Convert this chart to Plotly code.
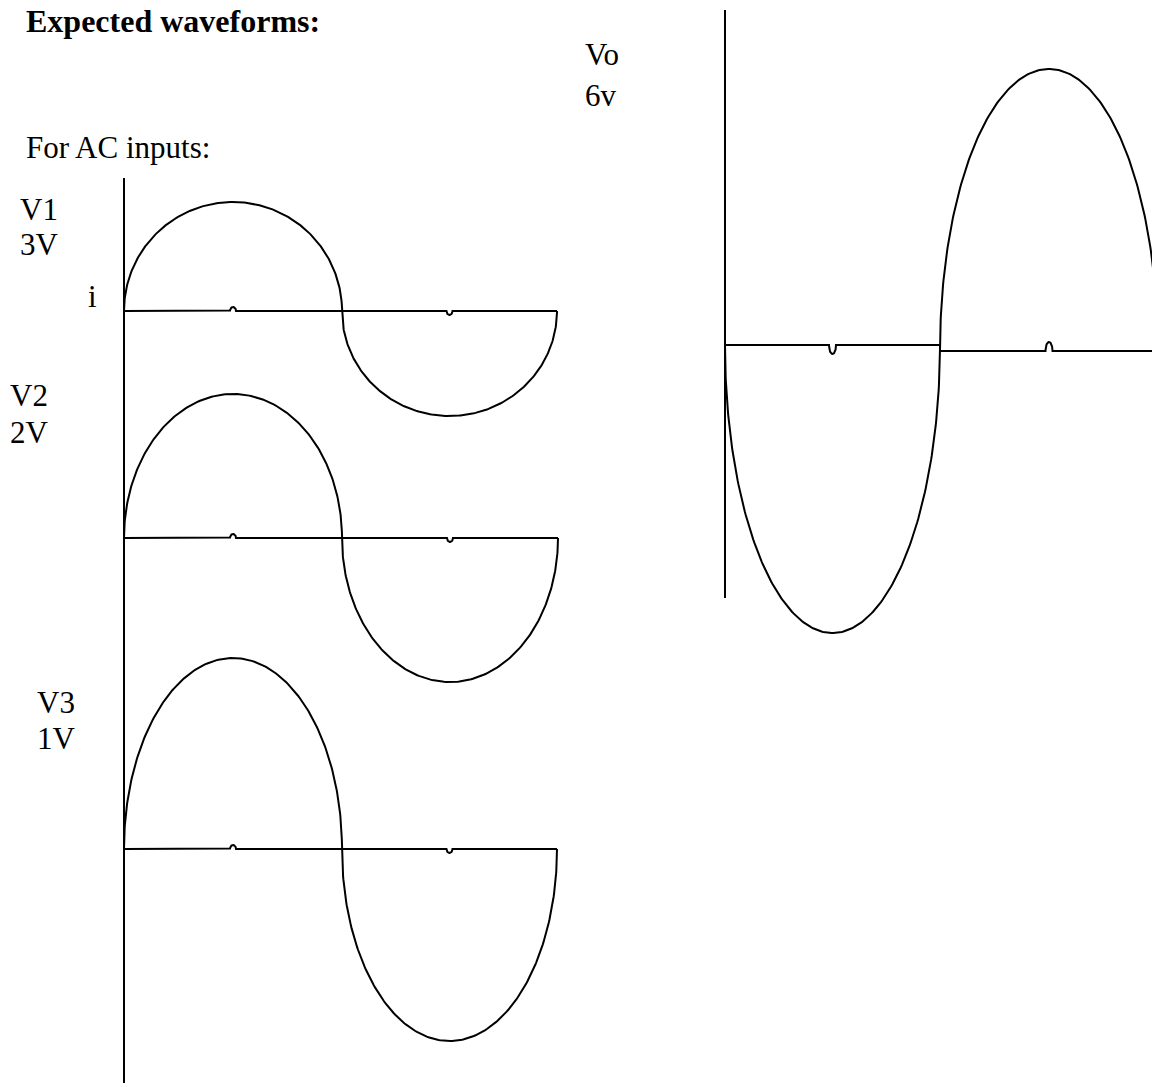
import numpy as np
import plotly.graph_objects as go

# ---------------- data (canvas units) ----------------
# input waveforms V1, V2, V3
in_labels = ["V1", "V2", "V3"]
in_amps = ["3V", "2V", "1V"]
in_start = [124, 124, 124]       # start of positive half
in_cross = [342, 342, 342]       # zero crossing
in_end = [557, 558, 557]         # end of negative half
in_base = [311, 538, 849]        # baseline level
in_peak = [202, 394, 658]        # positive peak level
in_trough = [416, 682, 1041]     # negative peak level
in_axis = [124, 178, 1083]       # x, top, bottom of the shared vertical axis

# output waveform Vo (inverted sum)
out_label = "Vo"
out_amp = "6v"
out_start = 725
out_cross = 940
out_end = 1158
out_base_left = 345
out_base_right = 351
out_trough = 633
out_peak = 69
out_axis = [725, 10, 598]

LINE = dict(color="black", width=2)
N = 200


def half_wave(x0, x1, base, extreme):
    t = np.linspace(0, np.pi, N)
    x = x0 + (x1 - x0) / 2 * (1 - np.cos(t))
    y = base + (extreme - base) * np.sin(t)
    return x, y


def bump(xc, base, direction, w, h):
    t = np.linspace(np.pi, 0, 30)
    return xc + w / 2 * np.cos(t), base + direction * h * np.sin(t)


def baseline_with_ticks(x0, x1, base, ticks):
    xs, ys = [x0], [base]
    for xc, d, w, h in ticks:
        bx, by = bump(xc, base, d, w, h)
        xs += list(bx)
        ys += list(by)
    xs.append(x1)
    ys.append(base)
    return xs, ys


fig = go.Figure()

# shared vertical axis of inputs
fig.add_trace(go.Scatter(x=[in_axis[0], in_axis[0]], y=[in_axis[1], in_axis[2]],
                         mode="lines", line=LINE, hoverinfo="skip"))

for i in range(3):
    px, py = half_wave(in_start[i], in_cross[i], in_base[i], in_peak[i])
    nx, ny = half_wave(in_cross[i], in_end[i], in_base[i], in_trough[i])
    fig.add_trace(go.Scatter(x=np.concatenate([px, nx]), y=np.concatenate([py, ny]),
                             mode="lines", line=LINE, hoverinfo="skip"))
    pk = (in_start[i] + in_cross[i]) / 2
    tr = (in_cross[i] + in_end[i]) / 2
    bx, by = baseline_with_ticks(in_start[i], in_end[i], in_base[i],
                                 [(pk, -1, 6, 4), (tr, 1, 6, 4)])
    fig.add_trace(go.Scatter(x=bx, y=by, mode="lines", line=LINE, hoverinfo="skip"))

# output
fig.add_trace(go.Scatter(x=[out_axis[0], out_axis[0]], y=[out_axis[1], out_axis[2]],
                         mode="lines", line=LINE, hoverinfo="skip"))
nx, ny = half_wave(out_start, out_cross, out_base_left, out_trough)
px, py = half_wave(out_cross, out_end, out_base_right, out_peak)
fig.add_trace(go.Scatter(x=np.concatenate([nx, px]), y=np.concatenate([ny, py]),
                         mode="lines", line=LINE, hoverinfo="skip"))
bx, by = baseline_with_ticks(out_start, out_cross, out_base_left,
                             [((out_start + out_cross) / 2, 1, 7, 9)])
fig.add_trace(go.Scatter(x=bx, y=by, mode="lines", line=LINE, hoverinfo="skip"))
bx, by = baseline_with_ticks(out_cross, out_end, out_base_right,
                             [((out_cross + out_end) / 2, -1, 7, 9)])
fig.add_trace(go.Scatter(x=bx, y=by, mode="lines", line=LINE, hoverinfo="skip"))

FONT = "Liberation Serif, Times New Roman, serif"


def label(text, x, y, size=31, bold=False):
    fig.add_annotation(x=x, y=y, xref="x", yref="y", text=("<b>%s</b>" % text) if bold else text,
                       showarrow=False, xanchor="left", yanchor="middle",
                       font=dict(family=FONT, size=size, color="black"))


label("Expected waveforms:", 24, 21, 32, bold=True)
label("For AC inputs:", 24, 147)
label("i", 86, 296)
label(in_labels[0], 18, 209)
label(in_amps[0], 18, 244)
label(in_labels[1], 8, 395)
label(in_amps[1], 8, 432)
label(in_labels[2], 35, 702)
label(in_amps[2], 35, 738)
label(out_label, 583, 54)
label(out_amp, 583, 95)

fig.update_layout(
    width=1152, height=1085,
    margin=dict(l=0, r=0, t=0, b=0),
    paper_bgcolor="white", plot_bgcolor="white",
    showlegend=False,
    xaxis=dict(range=[0, 1152], visible=False, fixedrange=True),
    yaxis=dict(range=[1085, 0], visible=False, fixedrange=True),
)

fig.write_html("out.html", config={"displayModeBar": False},
               post_script="document.body.style.margin='0';document.body.style.overflow='hidden';")
